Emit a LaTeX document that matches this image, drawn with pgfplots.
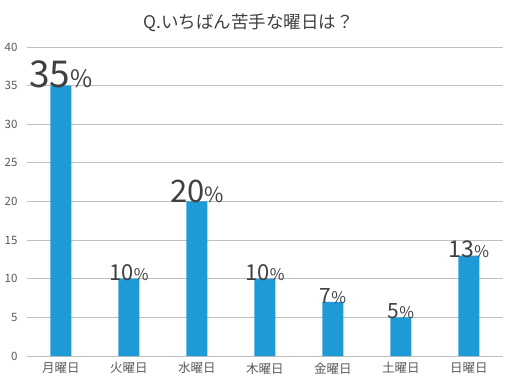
\documentclass[border=0pt]{standalone}
\usepackage{pgfplots}
\pgfplotsset{compat=1.18}
\usepackage{fontspec}
\setmainfont{Noto Sans CJK JP}
\definecolor{barblue}{HTML}{1E9BD7}
\definecolor{txt}{HTML}{404040}
\definecolor{tick}{HTML}{595959}
\definecolor{grid}{HTML}{D9D9D9}
\newcommand{\lab}[3]{{\fontsize{#1bp}{#1bp}\selectfont #3}{\fontsize{#2bp}{#2bp}\selectfont\%}}
\begin{document}
\begin{tikzpicture}
\useasboundingbox (-27bp,-29bp) rectangle (485bp,356bp);
\begin{axis}[
  at={(0,0)}, anchor=south west,
  scale only axis, width=476bp, height=309bp,
  ybar, bar width=21bp, bar shift=0pt,
  xmin=-0.5, xmax=6.5, ymin=0, ymax=40,
  ytick={0,5,...,40},
  xtick={0,...,6},
  xticklabels={月曜日,火曜日,水曜日,木曜日,金曜日,土曜日,日曜日},
  /pgf/number format/assume math mode=true,
  ymajorgrids=true, xmajorgrids=false,
  grid style={grid, line width=0.8bp},
  axis line style={draw=none},
  major tick length=0pt,
  tick style={draw=none},
  xticklabel style={font=\fontsize{12.5bp}{13bp}\selectfont, text=tick, yshift=-3bp},
  yticklabel style={font=\fontsize{11.5bp}{12bp}\selectfont, text=tick, xshift=-6bp},
  clip=false,
  point meta=explicit symbolic,
  nodes near coords={\pgfplotspointmeta},
  nodes near coords style={anchor=base, inner sep=0pt, yshift=-1.5bp, text=txt},
]
\addplot[fill=barblue, draw=none] coordinates {
  (0,35) [\lab{37}{24}{35}]
  (1,10) [\lab{22}{16}{10}]
  (2,20) [\lab{31}{21}{20}]
  (3,10) [\lab{22}{16}{10}]
  (4,7)  [\lab{21}{16}{7}]
  (5,5)  [\lab{21}{16}{5}]
  (6,13) [\lab{23}{16}{13}]
};
\node[text=txt, font=\fontsize{17.5bp}{18bp}\selectfont] at (rel axis cs:0.465,1) [yshift=24bp] {Q.いちばん苦手な曜日は？};
\end{axis}
\end{tikzpicture}
\end{document}
